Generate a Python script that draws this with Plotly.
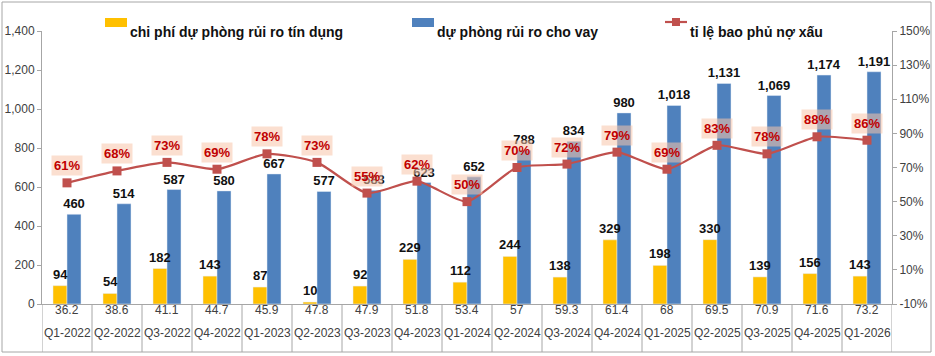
import plotly.graph_objects as go

quarters = ["Q1-2022", "Q2-2022", "Q3-2022", "Q4-2022", "Q1-2023", "Q2-2023", "Q3-2023", "Q4-2023",
            "Q1-2024", "Q2-2024", "Q3-2024", "Q4-2024", "Q1-2025", "Q2-2025", "Q3-2025", "Q4-2025", "Q1-2026"]
row1_values = ["36.2", "38.6", "41.1", "44.7", "45.9", "47.8", "47.9", "51.8", "53.4", "57", "59.3", "61.4",
               "68", "69.5", "70.9", "71.6", "73.2"]
credit_cost = [94, 54, 182, 143, 87, 10, 92, 229, 112, 244, 138, 329, 198, 330, 139, 156, 143]
loan_provision = [460, 514, 587, 580, 667, 577, 583, 623, 652, 788, 834, 980, 1018, 1131, 1069, 1174, 1191]
coverage_ratio = [61, 68, 73, 69, 78, 73, 55, 62, 50, 70, 72, 79, 69, 83, 78, 88, 86]
left_ticks = list(range(0, 1401, 200))
right_ticks = list(range(-10, 151, 20))

name_cost = "chi phí dự phòng rủi ro tín dụng"
name_prov = "dự phòng rủi ro cho vay"
name_ratio = "tỉ lệ bao phủ nợ xấu"

YELLOW = "#FFC000"
BLUE = "#4F81BD"
RED = "#C0504D"
GRID = "#A6A6A6"
FONT = "Liberation Sans"

W, H = 935, 356
L, R, T, B = 42, 43, 31, 52
PW, PH = W - L - R, H - T - B


def px(x):
    return (x - L) / PW


def py(y):
    return (H - B - y) / PH


fig = go.Figure()
fig.add_trace(go.Bar(x=quarters, y=credit_cost, name=name_cost, marker_color=YELLOW))
fig.add_trace(go.Bar(x=quarters, y=loan_provision, name=name_prov, marker_color=BLUE,
                     texttemplate="%{y:,}", textposition="outside", cliponaxis=False, constraintext="none",
                     textfont=dict(size=13, color="#111111", family=FONT, weight="bold")))
fig.add_trace(go.Scatter(x=quarters, y=coverage_ratio, name=name_ratio, yaxis="y2", mode="lines+markers",
                         line=dict(color=RED, width=2.2, shape="spline", smoothing=0.6),
                         marker=dict(symbol="square", size=9, color=RED), cliponaxis=False))

annotations = []
# yellow bar labels (as annotations so the blue bars don't cover them)
for q, v in zip(quarters, credit_cost):
    annotations.append(dict(x=q, y=v, xref="x", yref="y", xshift=-7, yshift=2, yanchor="bottom",
                            text=f"<b>{v:,}</b>", showarrow=False,
                            font=dict(size=13, color="#111111", family=FONT)))
for q, r in zip(quarters, coverage_ratio):
    annotations.append(dict(x=q, y=r, xref="x", yref="y2", yshift=17, text=f"<b>{r}%</b>",
                            showarrow=False, font=dict(size=13, color="#C00000", family=FONT),
                            bgcolor="rgba(248,196,170,0.55)", borderpad=2))
for q, v in zip(quarters, row1_values):
    annotations.append(dict(x=q, y=py(319), xref="x", yref="paper", text=v, showarrow=False,
                            font=dict(size=12, color="#404040", family=FONT)))
    annotations.append(dict(x=q, y=py(342), xref="x", yref="paper", text=q, showarrow=False,
                            font=dict(size=12, color="#404040", family=FONT)))

# custom legend
legend_items = [(105, name_cost), (412, name_prov), (665, name_ratio)]
for x0, txt in legend_items:
    annotations.append(dict(x=px(x0 + 23), y=py(22), xref="paper", yref="paper", xanchor="left",
                            text=f"<b>{txt}</b>", showarrow=False,
                            font=dict(size=14, color="#111111", family=FONT)))

shapes = []
shapes.append(dict(type="rect", xref="paper", yref="paper", x0=px(105), x1=px(127), y0=py(27), y1=py(18),
                   fillcolor=YELLOW, line=dict(width=0)))
shapes.append(dict(type="rect", xref="paper", yref="paper", x0=px(412), x1=px(434), y0=py(27), y1=py(18),
                   fillcolor=BLUE, line=dict(width=0)))
shapes.append(dict(type="line", xref="paper", yref="paper", x0=px(665), x1=px(687), y0=py(22), y1=py(22),
                   line=dict(color=RED, width=2.2)))
shapes.append(dict(type="rect", xref="paper", yref="paper", x0=px(672), x1=px(680), y0=py(26), y1=py(18),
                   fillcolor=RED, line=dict(width=0)))

# table lines
for k in range(len(quarters) + 1):
    shapes.append(dict(type="line", xref="x", yref="paper", x0=k - 0.5, x1=k - 0.5, y0=py(352), y1=0,
                       line=dict(color=GRID, width=1)))
# outer frame
shapes.append(dict(type="rect", xref="paper", yref="paper", x0=px(2), x1=px(931), y0=py(352), y1=py(2),
                   line=dict(color=GRID, width=1)))

fig.update_layout(
    width=W, height=H, margin=dict(l=L, r=R, t=T, b=B, autoexpand=False),
    paper_bgcolor="white", plot_bgcolor="white",
    barmode="group", bargap=0.44, bargroupgap=0.0,
    showlegend=False,
    font=dict(family=FONT, size=12, color="#404040"),
    xaxis=dict(type="category", categoryorder="array", categoryarray=quarters, showticklabels=False,
               showline=True, linecolor=GRID, linewidth=1, ticks="", automargin=False,
               range=[-0.5, len(quarters) - 0.5]),
    yaxis=dict(range=[0, 1400], tickvals=left_ticks, ticktext=[f"{v:,}" for v in left_ticks], showgrid=False,
               showline=True, linecolor=GRID, linewidth=1, ticks="outside", ticklen=4, tickcolor=GRID,
               zeroline=False, automargin=False, tickfont=dict(size=12, color="#404040")),
    yaxis2=dict(range=[-10, 150], tickvals=right_ticks, ticktext=[f"{v}%" for v in right_ticks],
                overlaying="y", side="right", showgrid=False, showline=True, linecolor=GRID, linewidth=1,
                ticks="outside", ticklen=4, tickcolor=GRID, zeroline=False, automargin=False,
                tickfont=dict(size=12, color="#404040")),
    annotations=annotations, shapes=shapes,
)

fig.write_html("out.html")
